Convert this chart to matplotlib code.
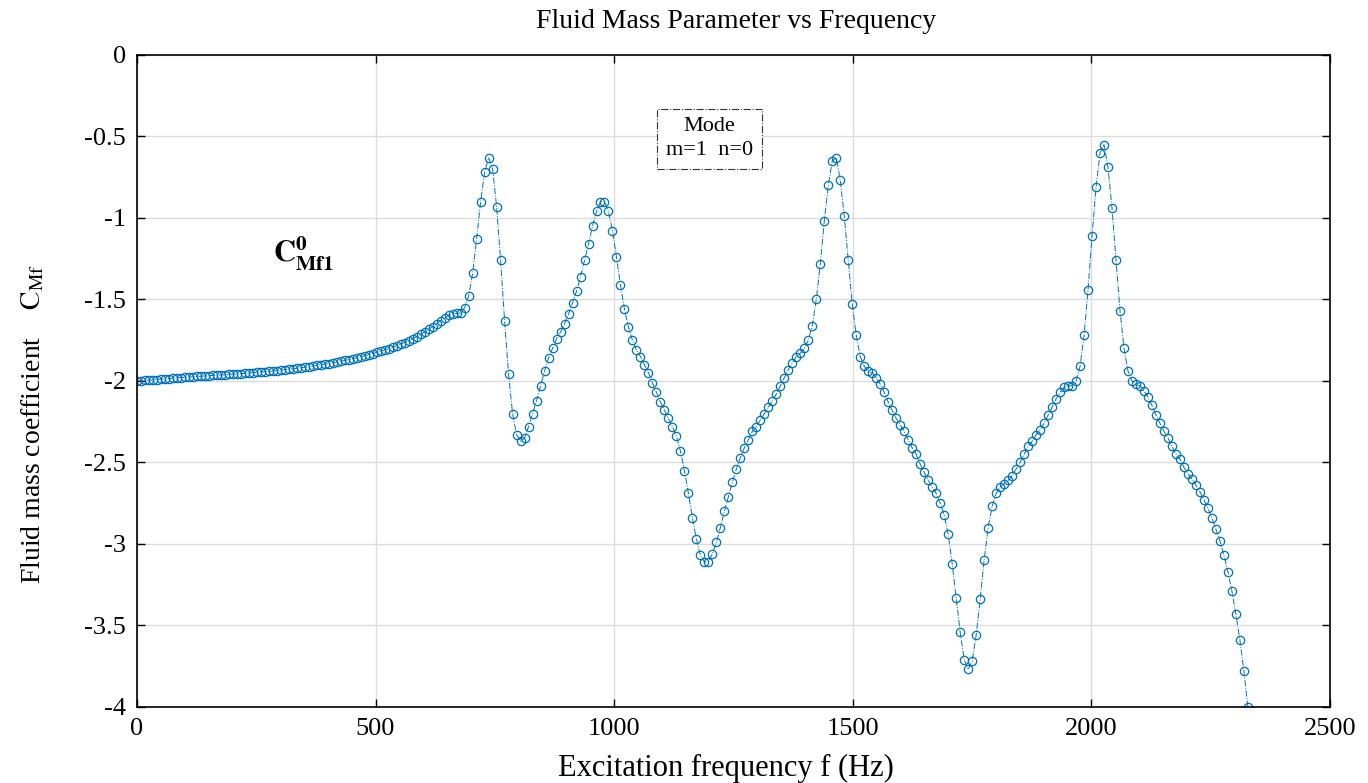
import numpy as np
import matplotlib
matplotlib.use("Agg")
import matplotlib.pyplot as plt

cmf = [
    -2.000, -1.998, -1.997, -1.995, -1.993, -1.991, -1.989, -1.987, -1.985, -1.983,
    -1.981, -1.979, -1.977, -1.976, -1.974, -1.972, -1.971, -1.969, -1.968, -1.966,
    -1.965, -1.963, -1.962, -1.960, -1.958, -1.957, -1.955, -1.953, -1.951, -1.949,
    -1.947, -1.945, -1.943, -1.941, -1.939, -1.936, -1.934, -1.931, -1.928, -1.925,
    -1.922, -1.919, -1.916, -1.913, -1.909, -1.905, -1.901, -1.897, -1.893, -1.889,
    -1.884, -1.879, -1.874, -1.869, -1.864, -1.858, -1.852, -1.846, -1.839, -1.832,
    -1.825, -1.818, -1.810, -1.802, -1.793, -1.784, -1.774, -1.764, -1.753, -1.741,
    -1.728, -1.714, -1.699, -1.683, -1.666, -1.648, -1.630, -1.612, -1.598, -1.590,
    -1.586, -1.583,
    -1.55, -1.48, -1.34, -1.13, -0.90, -0.72, -0.63, -0.70, -0.93, -1.26,
    -1.63, -1.96, -2.20, -2.33, -2.37, -2.35, -2.28, -2.20, -2.12, -2.03,
    -1.94, -1.86, -1.80, -1.74, -1.70, -1.65, -1.59, -1.52, -1.45, -1.36,
    -1.26, -1.16, -1.05, -0.96, -0.90, -0.90, -0.96, -1.08, -1.24, -1.41,
    -1.56, -1.67, -1.75, -1.81, -1.85, -1.90, -1.95, -2.01, -2.07, -2.13,
    -2.18, -2.23, -2.28, -2.34, -2.43, -2.55, -2.69, -2.84, -2.97, -3.07,
    -3.11, -3.11, -3.06, -2.99, -2.90, -2.80, -2.71, -2.62, -2.54, -2.47,
    -2.41, -2.36, -2.31, -2.28, -2.24, -2.20, -2.16, -2.12, -2.08, -2.03,
    -1.98, -1.93, -1.89, -1.85, -1.83, -1.80, -1.75, -1.66, -1.50, -1.28,
    -1.02, -0.80, -0.65, -0.63, -0.77, -0.99, -1.26, -1.53, -1.72, -1.85,
    -1.91, -1.94, -1.95, -1.98, -2.02, -2.07, -2.13, -2.18, -2.23, -2.27,
    -2.31, -2.36, -2.41, -2.45, -2.51, -2.56, -2.61, -2.65, -2.69, -2.75,
    -2.82, -2.94, -3.12, -3.33, -3.54, -3.71, -3.77, -3.72, -3.56, -3.34,
    -3.10, -2.90, -2.77, -2.69, -2.65, -2.63, -2.61, -2.58, -2.54, -2.50,
    -2.45, -2.40, -2.37, -2.33, -2.30, -2.26, -2.21, -2.16, -2.11, -2.07,
    -2.04, -2.03, -2.03, -2.00, -1.91, -1.72, -1.44, -1.11, -0.81, -0.60,
    -0.55, -0.69, -0.94, -1.26, -1.57, -1.80, -1.94, -2.00, -2.02, -2.03,
    -2.06, -2.10, -2.15, -2.21, -2.26, -2.31, -2.35, -2.40, -2.45, -2.48,
    -2.53, -2.57, -2.60, -2.64, -2.68, -2.73, -2.78, -2.84, -2.91, -2.98,
    -3.07, -3.17, -3.29, -3.43, -3.59, -3.78, -4.00,
]
freq = np.linspace(0, 2328, len(cmf))

xticks = [0, 500, 1000, 1500, 2000, 2500]
yticks = [-4, -3.5, -3, -2.5, -2, -1.5, -1, -0.5, 0]

plt.rcParams['font.family'] = ['Liberation Serif', 'DejaVu Serif']
plt.rcParams['mathtext.fontset'] = 'stix'

fig = plt.figure(figsize=(13.68, 7.83), dpi=100)
ax = fig.add_axes([0.1001, 0.0971, 0.8721, 0.8327])

ax.plot(freq, cmf, color='#0072BD', linestyle='-.', linewidth=0.7,
        marker='o', markersize=6, markerfacecolor='none',
        markeredgewidth=0.9)

ax.set_xlim(0, 2500)
ax.set_ylim(-4, 0)
ax.set_xticks(xticks)
ax.set_yticks(yticks)
ax.set_xticklabels([f'{t:g}' for t in xticks])
ax.set_yticklabels([f'{t:g}' for t in yticks])
ax.tick_params(direction='in', top=True, right=True, length=6, width=1,
               labelsize=19, pad=8)
ax.grid(True, color='#dcdcdc', linewidth=1)
ax.set_axisbelow(True)
for s in ax.spines.values():
    s.set_linewidth(1.2)

fig.text(0.538, 0.972, 'Fluid Mass Parameter vs Frequency', ha='center',
         va='center', fontsize=20)
fig.text(0.531, 0.019, 'Excitation frequency f (Hz)', ha='center',
         va='center', fontsize=22)
fig.text(0.024, 0.459, r'Fluid mass coefficient    $\mathrm{C}_{\mathrm{Mf}}$',
         rotation=90, ha='center', va='center', fontsize=20)

ax.text(285, -1.22, r'$\mathbf{C}^{\mathbf{0}}_{\mathbf{Mf1}}$', fontsize=22,
        ha='left', va='center')

ax.text(1199, -0.515, 'Mode\nm=1  n=0', ha='center', va='center',
        fontsize=16, linespacing=1.35,
        bbox=dict(boxstyle='square,pad=0.4', facecolor='white',
                  edgecolor='#333333', linestyle='-.', linewidth=0.8))

fig.savefig('out.png', dpi=100)
